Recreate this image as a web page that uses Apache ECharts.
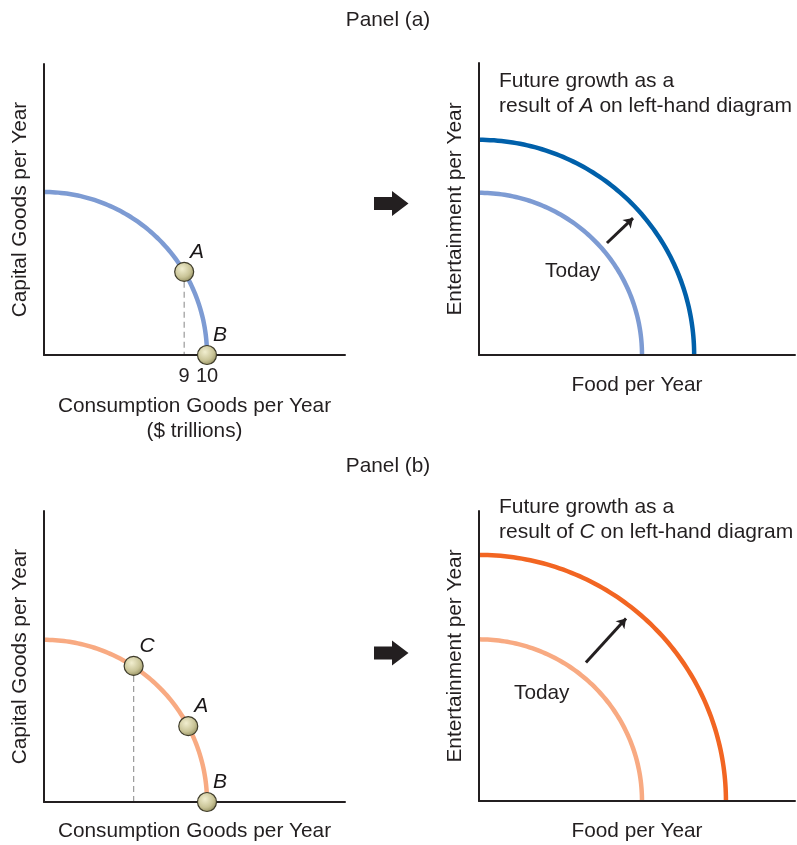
<!DOCTYPE html>
<html>
<head>
<meta charset="utf-8">
<script src="https://cdn.jsdelivr.net/npm/echarts@6/dist/echarts.min.js"></script>
<style>html,body{margin:0;padding:0;background:#fff}#c{width:797px;height:845px}</style>
</head>
<body>
<div id="c"></div>
<script>
// ---- data (chart units: PPF of "today" reaches 10 on each axis) ----
const leftA_curve = [[10, 10]];                       // [max consumption, max capital]
const leftA_points = [{name: 'A', value: [8.6, 5.1]}, {name: 'B', value: [10, 0]}];
const leftA_tickValues = [8.6, 10];
const leftA_tickLabels = ['9', '10'];
const rightA_today = [[10, 9.95]];
const rightA_future = [[13.2, 13.2]];
const rightA_shift = [[7.85, 6.87], [9.45, 8.4]];

const leftB_curve = [[10, 9.95]];
const leftB_points = [{name: 'C', value: [5.5, 8.35]}, {name: 'A', value: [8.85, 4.65]}, {name: 'B', value: [10, 0]}];
const rightB_today = [[10, 9.95]];
const rightB_future = [[15.15, 15.15]];
const rightB_shift = [[6.56, 8.53], [9.02, 11.23]];

const panelTitles = ['Panel (a)', 'Panel (b)'];
const leftXNames = ['Consumption Goods per Year\n($ trillions)', 'Consumption Goods per Year'];
const leftYName = 'Capital Goods per Year';
const rightXName = 'Food per Year';
const rightYName = 'Entertainment per Year';
const growthLetters = ['A', 'C'];

// ---- styles ----
const FONT = "'Liberation Sans', Arial, Helvetica, sans-serif";
const INK = '#231f20';
const FS = 20.8;
const PX = 16.3; // pixels per unit
const LIGHT_BLUE = '#7d9bd3', DARK_BLUE = '#0060aa';
const LIGHT_OR = '#f8aa82', DARK_OR = '#f26522';

const grids = [
  {left: 44, top: 64, width: 301, height: 291},
  {left: 479, top: 63, width: 316, height: 292},
  {left: 44, top: 511, width: 301, height: 291},
  {left: 479, top: 511, width: 316, height: 291}
];

function axisBase(extra) {
  return Object.assign({
    type: 'value', min: 0, z: 10,
    splitLine: {show: false}, axisTick: {show: false}, axisLabel: {show: false},
    axisLine: {show: true, onZero: false, lineStyle: {color: INK, width: 2}},
    nameLocation: 'middle',
    nameTextStyle: {fontFamily: FONT, fontSize: FS, color: INK, lineHeight: 25}
  }, extra);
}

const xAxes = grids.map((g, i) => axisBase({gridIndex: i, max: g.width / PX}));
const yAxes = grids.map((g, i) => axisBase({gridIndex: i, max: g.height / PX, nameRotate: 90}));
xAxes[0].name = leftXNames[0]; xAxes[0].nameGap = 39;
xAxes[2].name = leftXNames[1]; xAxes[2].nameGap = 17;
xAxes[1].name = rightXName; xAxes[1].nameGap = 18;
xAxes[3].name = rightXName; xAxes[3].nameGap = 18;
yAxes[0].name = leftYName; yAxes[0].nameGap = 11;
yAxes[2].name = leftYName; yAxes[2].nameGap = 11;
yAxes[1].name = rightYName; yAxes[1].nameGap = 11;
yAxes[3].name = rightYName; yAxes[3].nameGap = 11;
xAxes[0].axisLabel = {
  show: true, customValues: leftA_tickValues, margin: 11,
  fontFamily: FONT, fontSize: 20, color: INK,
  formatter: (v) => leftA_tickLabels[leftA_tickValues.indexOf(v)]
};

function arcSeries(idx, data, color) {
  return {
    type: 'custom', xAxisIndex: idx, yAxisIndex: idx, z: 3, silent: true,
    data: data,
    renderItem: function (params, api) {
      const o = api.coord([0, 0]);
      const ex = api.coord([api.value(0), 0]);
      const ey = api.coord([0, api.value(1)]);
      const rx = ex[0] - o[0], ry = o[1] - ey[1];
      const pts = [];
      for (let k = 0; k <= 90; k++) {
        const t = k / 90 * Math.PI / 2;
        pts.push([o[0] + rx * Math.sin(t), o[1] - ry * Math.cos(t)]);
      }
      return {type: 'polyline', shape: {points: pts}, style: {stroke: color, lineWidth: 4.5, fill: null}};
    }
  };
}

const dotStyle = {
  color: {type: 'radial', x: 0.4, y: 0.35, r: 0.7,
    colorStops: [{offset: 0, color: '#f1eecf'}, {offset: 0.6, color: '#c9c497'}, {offset: 1, color: '#8f8a5a'}]},
  borderColor: '#3e3b2a', borderWidth: 1.2, opacity: 1
};

function pointSeries(idx, pts) {
  return {
    type: 'scatter', xAxisIndex: idx, yAxisIndex: idx, z: 20, silent: true,
    symbol: 'circle', symbolSize: 19, itemStyle: dotStyle,
    data: pts,
    label: {show: true, position: [16, -20], formatter: '{b}', fontFamily: FONT, fontSize: 21,
      fontStyle: 'italic', color: '#1a1718', opacity: 1}
  };
}

function dropSeries(idx, pt) {
  return {
    type: 'line', xAxisIndex: idx, yAxisIndex: idx, z: 2, silent: true, symbol: 'none',
    lineStyle: {color: '#9a9a9a', width: 1.2, type: [6, 4]},
    data: [[pt.value[0], pt.value[1]], [pt.value[0], 0]]
  };
}

function shiftSeries(idx, seg) {
  return {
    type: 'lines', coordinateSystem: 'cartesian2d', xAxisIndex: idx, yAxisIndex: idx, z: 5, silent: true,
    symbol: ['none', 'arrow'], symbolSize: [7, 9],
    lineStyle: {color: INK, width: 3, opacity: 1},
    data: [{coords: seg}]
  };
}

function textStyleRich() {
  return {
    n: {fontFamily: FONT, fontSize: 21, color: INK, lineHeight: 25},
    i: {fontFamily: FONT, fontSize: 21, color: INK, lineHeight: 25, fontStyle: 'italic'}
  };
}

function bigArrow(cy) {
  return {
    type: 'polygon', silent: true,
    shape: {points: [[374, cy - 6.5], [392, cy - 6.5], [392, cy - 12.5], [408.5, cy], [392, cy + 12.5], [392, cy + 6.5], [374, cy + 6.5]]},
    style: {fill: INK}
  };
}

function plainText(x, y, txt, align) {
  return {type: 'text', x: x, y: y, silent: true,
    style: {text: txt, fontFamily: FONT, fontSize: FS, fill: INK, align: align || 'left', verticalAlign: 'middle'}};
}

function growthText(x, y, letter) {
  return {type: 'text', x: x, y: y, silent: true,
    style: {
      text: '{n|Future growth as a}\n{n|result of }{i|' + letter + '}{n| on left-hand diagram}',
      rich: textStyleRich(), fill: INK, align: 'left', verticalAlign: 'top'
    }};
}

const option = {
  animation: false,
  backgroundColor: '#fff',
  grid: grids,
  xAxis: xAxes,
  yAxis: yAxes,
  series: [
    dropSeries(0, leftA_points[0]),
    arcSeries(0, leftA_curve, LIGHT_BLUE),
    pointSeries(0, leftA_points),
    arcSeries(1, rightA_today, LIGHT_BLUE),
    arcSeries(1, rightA_future, DARK_BLUE),
    shiftSeries(1, rightA_shift),
    dropSeries(2, leftB_points[0]),
    arcSeries(2, leftB_curve, LIGHT_OR),
    pointSeries(2, leftB_points),
    arcSeries(3, rightB_today, LIGHT_OR),
    arcSeries(3, rightB_future, DARK_OR),
    shiftSeries(3, rightB_shift)
  ],
  graphic: [
    plainText(388, 20, panelTitles[0], 'center'),
    plainText(388, 466, panelTitles[1], 'center'),
    bigArrow(203.5),
    bigArrow(653),
    growthText(499, 68.5, growthLetters[0]),
    growthText(499, 494.5, growthLetters[1]),
    plainText(545, 271, 'Today'),
    plainText(514, 693, 'Today')
  ]
};

const chart = echarts.init(document.getElementById('c'), null, {renderer: 'canvas'});
chart.setOption(option);
</script>
</body>
</html>
